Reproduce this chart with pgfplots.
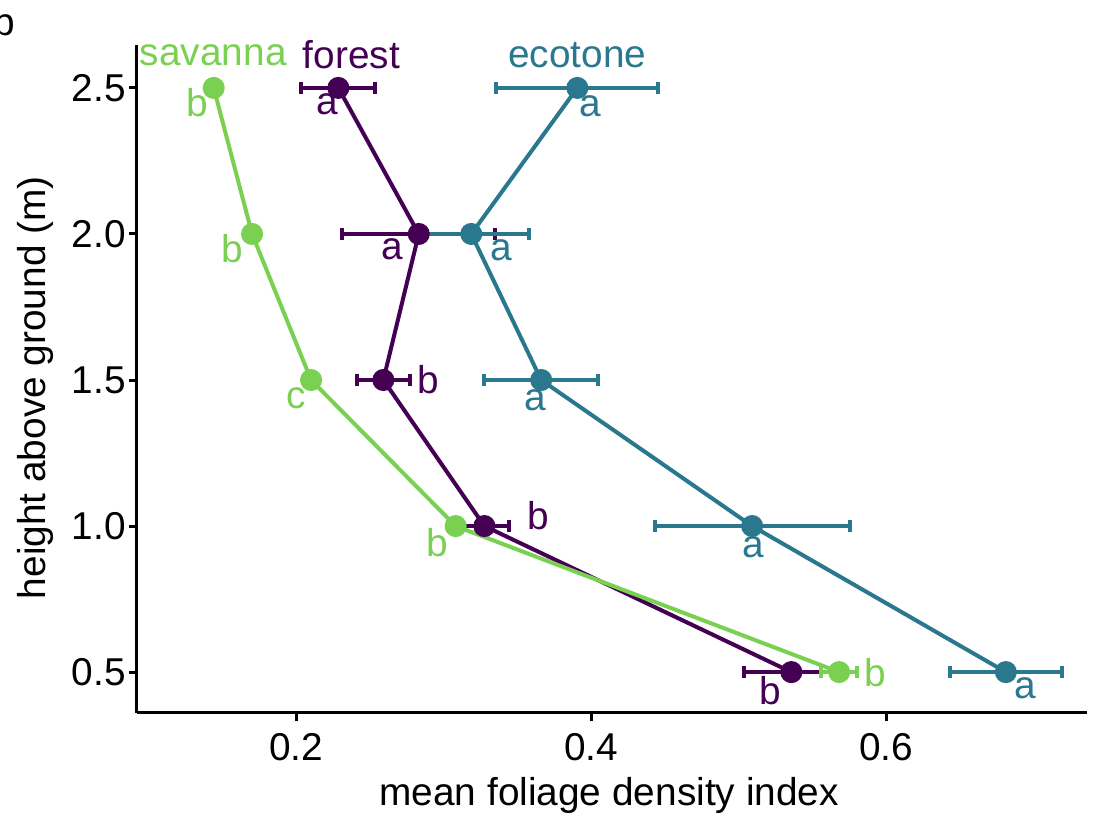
\documentclass[border=0pt]{standalone}
\usepackage{pgfplots}
\pgfplotsset{compat=1.18}
\usepackage{pgfplotstable}
\usepackage{fontspec}
\setmainfont{Liberation Sans}
\definecolor{sav}{HTML}{7AD151}
\definecolor{forc}{HTML}{440154}
\definecolor{eco}{HTML}{2A788E}
\pgfplotstableread{
x y ex
0.144 2.5 0.003
0.170 2.0 0.004
0.210 1.5 0.004
0.308 1.0 0.005
0.568 0.5 0.012
}\savanna
\pgfplotstableread{
x y ex
0.2285 2.5 0.025
0.283 2.0 0.052
0.259 1.5 0.018
0.3275 1.0 0.017
0.5356 0.5 0.032
}\forest
\pgfplotstableread{
x y ex
0.3905 2.5 0.055
0.3186 2.0 0.039
0.366 1.5 0.0386
0.509 1.0 0.066
0.681 0.5 0.038
}\ecotone
\newcommand{\fs}{\fontsize{19.4}{22}\selectfont}
\begin{document}
\begin{tikzpicture}
\begin{axis}[
  scale only axis, width=475pt, height=334pt,
  xmin=0.092, xmax=0.736, ymin=0.36, ymax=2.647,
  axis lines*=left,
  axis line style={line width=1.5pt, black},
  xtick={0.2,0.4,0.6}, ytick={0.5,1.0,1.5,2.0,2.5},
  tick style={line width=1.5pt, black},
  tick align=outside, major tick length=4pt,
  /pgf/number format/assume math mode=true,
  x tick label style={/pgf/number format/fixed, /pgf/number format/precision=1},
  y tick label style={/pgf/number format/fixed, /pgf/number format/fixed zerofill, /pgf/number format/precision=1},
  tick label style={font=\fs},
  xticklabel style={yshift=-2.5pt},
  yticklabel style={xshift=2pt},
  xlabel={mean foliage density index},
  ylabel={height above ground (m)},
  label style={font=\fs},
  xlabel style={at={(axis description cs:0.497,-0.123)}, anchor=center},
  ylabel style={at={(axis description cs:-0.107,0.487)}, anchor=center},
  clip=false,
  every axis plot/.append style={line width=2pt},
]
\addplot[color=forc, mark=*, mark size=4.5pt, mark options={solid, fill=forc},
  error bars/.cd, x dir=both, x explicit,
  error bar style={line width=2pt, color=forc},
  error mark options={rotate=90, line width=2pt, mark size=3pt, color=forc}]
  table[x=x, y=y, x error=ex] {\forest};
\addplot[color=eco, mark=*, mark size=4.5pt, mark options={solid, fill=eco},
  error bars/.cd, x dir=both, x explicit,
  error bar style={line width=2pt, color=eco},
  error mark options={rotate=90, line width=2pt, mark size=3pt, color=eco}]
  table[x=x, y=y, x error=ex] {\ecotone};
\addplot[color=sav, mark=*, mark size=4.5pt, mark options={solid, fill=sav},
  error bars/.cd, x dir=both, x explicit,
  error bar style={line width=2pt, color=sav},
  error mark options={rotate=90, line width=2pt, mark size=3pt, color=sav}]
  table[x=x, y=y, x error=ex] {\savanna};
% series names
\node[font=\fs, text=sav] at (axis cs:0.1437,2.613) {savanna};
\node[font=\fs, text=forc] at (axis cs:0.2373,2.613) {forest};
\node[font=\fs, text=eco] at (axis cs:0.3905,2.613) {ecotone};
% letters savanna
\node[font=\fs, text=sav] at (axis cs:0.1329,2.449) {b};
\node[font=\fs, text=sav] at (axis cs:0.1566,1.949) {b};
\node[font=\fs, text=sav] at (axis cs:0.200,1.438) {c};
\node[font=\fs, text=sav] at (axis cs:0.2956,0.942) {b};
\node[font=\fs, text=sav] at (axis cs:0.5925,0.497) {b};
% letters forest
\node[font=\fs, text=forc] at (axis cs:0.221,2.445) {a};
\node[font=\fs, text=forc] at (axis cs:0.2651,1.949) {a};
\node[font=\fs, text=forc] at (axis cs:0.2895,1.5) {b};
\node[font=\fs, text=forc] at (axis cs:0.364,1.034) {b};
\node[font=\fs, text=forc] at (axis cs:0.5214,0.438) {b};
% letters ecotone
\node[font=\fs, text=eco] at (axis cs:0.3993,2.438) {a};
\node[font=\fs, text=eco] at (axis cs:0.339,1.945) {a};
\node[font=\fs, text=eco] at (axis cs:0.362,1.432) {a};
\node[font=\fs, text=eco] at (axis cs:0.5098,0.928) {a};
\node[font=\fs, text=eco] at (axis cs:0.6942,0.445) {a};
% panel letter
\node[font=\fs] at (axis description cs:-0.140,1.035) {b};
\end{axis}
\pgfresetboundingbox
\useasboundingbox ([xshift=-68.5pt,yshift=-52pt]current axis.south west) rectangle ([xshift=4pt,yshift=22.5pt]current axis.north east);
\end{tikzpicture}
\end{document}
